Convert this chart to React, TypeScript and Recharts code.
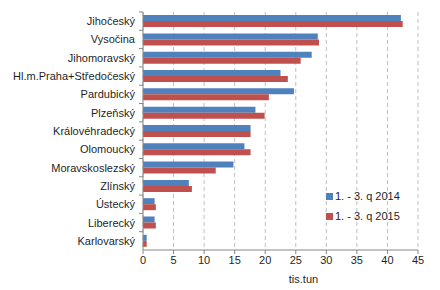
import { BarChart, Bar, XAxis, YAxis, CartesianGrid, Legend, Label } from 'recharts';

const regions = [
  'Jihočeský',
  'Vysočina',
  'Jihomoravský',
  'Hl.m.Praha+Středočeský',
  'Pardubický',
  'Plzeňský',
  'Královéhradecký',
  'Olomoucký',
  'Moravskoslezský',
  'Zlínský',
  'Ústecký',
  'Liberecký',
  'Karlovarský',
];
const q2014 = [42.2, 28.6, 27.6, 22.5, 24.7, 18.4, 17.6, 16.6, 14.8, 7.5, 1.9, 1.9, 0.6];
const q2015 = [42.5, 28.8, 25.8, 23.7, 20.6, 19.9, 17.6, 17.6, 11.9, 8.0, 2.1, 2.1, 0.6];
const xTicks = [0, 5, 10, 15, 20, 25, 30, 35, 40, 45];

const data = regions.map((name, i) => ({ name, a: q2014[i], b: q2015[i] }));

const font = "'Liberation Sans', sans-serif";

const RegionTick = (props: any) => {
  const { x, y, payload } = props;
  const half = payload.offset ?? 9;
  return (
    <g>
      <line x1={x + 8} x2={x + 4} y1={y - half} y2={y - half} stroke='#868686' />
      <text x={x} y={y} dy={4} textAnchor='end' fontSize={11} fill='#1f1f1f' fontFamily={font}>
        {payload.value}
      </text>
    </g>
  );
};

const LegendBox = (props: any) => {
  const { payload } = props;
  return (
    <div style={{ fontFamily: font, fontSize: 11, color: '#1f1f1f' }}>
      {payload.map((p: any) => (
        <div key={p.value} style={{ display: 'flex', alignItems: 'center', height: 20 }}>
          <span style={{ width: 7, height: 7, background: p.color, marginRight: 2, display: 'inline-block' }} />
          <span>{p.value}</span>
        </div>
      ))}
    </div>
  );
};

const App = () => {
  return (
    <div style={{ position: 'absolute', left: 0, top: 0, background: '#fff' }}>
      <BarChart
        width={440}
        height={290}
        data={data}
        layout='vertical'
        margin={{ top: 12, right: 22, bottom: 10, left: 0 }}
        barCategoryGap='17%'
        barGap={0}
      >
        <CartesianGrid horizontal={false} strokeDasharray='4 3' stroke='#bfbfbf' />
        <XAxis
          type='number'
          domain={[0, 45]}
          ticks={xTicks}
          interval={0}
          height={30}
          stroke='#868686'
          tickSize={4}
          tick={{ fontSize: 11, fill: '#1f1f1f', fontFamily: font }}
        >
          <Label
            value='tis.tun'
            position='insideBottom'
            offset={-3}
            dx={23}
            style={{ fontSize: 11, fill: '#1f1f1f', fontFamily: font }}
          />
        </XAxis>
        <YAxis
          type='category'
          dataKey='name'
          width={143}
          stroke='#868686'
          tickLine={false}
          interval={0}
          tick={<RegionTick />}
        />
        <Legend
          layout='horizontal'
          align='center'
          verticalAlign='middle'
          content={<LegendBox />}
          wrapperStyle={{ left: 326, top: 186, width: 110 }}
        />
        <Bar dataKey='a' name='1. - 3. q 2014' fill='#4F81BD' isAnimationActive={false} />
        <Bar dataKey='b' name='1. - 3. q 2015' fill='#C0504D' isAnimationActive={false} />
      </BarChart>
    </div>
  );
};

export default App;
